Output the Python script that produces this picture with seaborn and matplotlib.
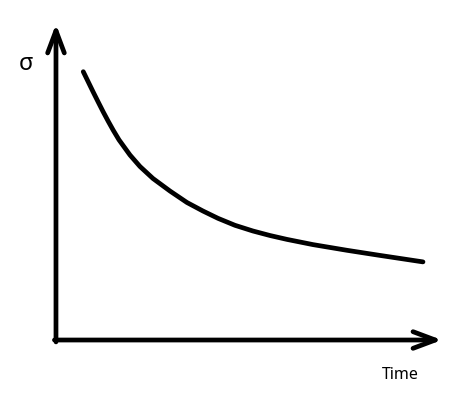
import matplotlib
matplotlib.use("Agg")

import matplotlib.pyplot as plt
import seaborn as sns
import pandas as pd

# Curve (arbitrary units, axes span 0..10 both ways)
time_values = [0.707, 0.837, 0.966, 1.096, 1.225, 1.355, 1.484, 1.632, 1.917,
               2.176, 2.513, 2.953, 3.394, 3.808, 4.197, 4.637, 5.104, 5.544,
               5.984, 6.658, 7.539, 8.394, 9.508]
sigma_values = [8.491, 8.165, 7.842, 7.525, 7.215, 6.918, 6.636, 6.335, 5.854,
                5.491, 5.111, 4.715, 4.351, 4.082, 3.851, 3.630, 3.449, 3.307,
                3.184, 3.019, 2.839, 2.677, 2.472]
x_label = "Time"
y_label = "\u03c3"

sns.set_theme(style="white")
plt.rcParams["font.family"] = ["Noto Sans", "DejaVu Sans"]

curve = pd.DataFrame({"time": time_values, "sigma": sigma_values})

fig = plt.figure(figsize=(4.57, 3.98), dpi=100)
ax = fig.add_axes([0.1225, 0.1457, 0.8446, 0.794])

sns.lineplot(data=curve, x="time", y="sigma", color="black", linewidth=3.4,
             solid_capstyle="round", solid_joinstyle="round", ax=ax)

ax.set_xlim(0, 10)
ax.set_ylim(0, 10)
ax.set_xticks([])
ax.set_yticks([])
ax.set_xlabel("")
ax.set_ylabel("")
for spine in ax.spines.values():
    spine.set_visible(False)

# hand-drawn style axes with open arrow heads
arrow_style = dict(arrowstyle="->, head_length=1.6, head_width=0.6", color="black",
                   lw=3.4, shrinkA=0, shrinkB=0, mutation_scale=10)
ax.annotate("", xy=(0, 1), xytext=(0, -0.006), xycoords="axes fraction",
            textcoords="axes fraction", arrowprops=arrow_style)
ax.annotate("", xy=(1, 0), xytext=(-0.004, 0), xycoords="axes fraction",
            textcoords="axes fraction", arrowprops=arrow_style)

fig.text(0.057, 0.839, y_label, fontsize=17, color="black", ha="center", va="center")
fig.text(0.875, 0.058, x_label, fontsize=11.5, color="black", ha="center", va="center")

fig.savefig("out.png", dpi=100)
plt.close(fig)
